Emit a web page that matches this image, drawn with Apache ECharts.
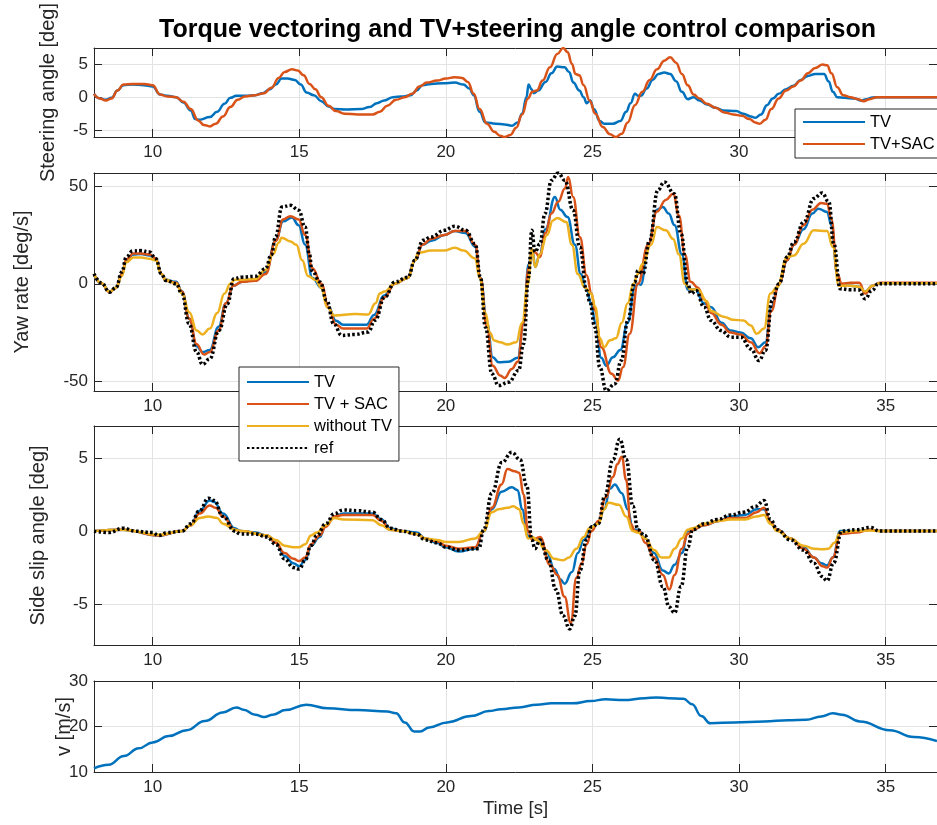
<!DOCTYPE html>
<html>
<head>
<meta charset="utf-8">
<title>Torque vectoring and TV+steering angle control comparison</title>
<script src="https://cdn.jsdelivr.net/npm/echarts@6/dist/echarts.min.js"></script>
<style>
  html, body { margin: 0; padding: 0; background: #fff; }
  #chart { width: 937px; height: 825px; }
</style>
</head>
<body>
<div id="chart"></div>
<script>
  // [time s, value] pairs

  // steering angle [deg]
  const steerTV = [[8.0,0.5],[8.2,-0.2],[8.4,-0.4],[8.6,-0.1],[8.8,1.0],[9.0,1.8],[9.3,1.9],[9.7,1.8],[10.0,1.6],[10.25,0.4],[10.5,0.2],[10.8,0.0],[11.05,-0.8],[11.3,-2.0],[11.45,-3.3],[11.6,-3.4],[11.95,-3.0],[12.2,-2.2],[12.45,-1.0],[12.65,-0.1],[12.85,0.2],[13.2,0.2],[13.5,0.3],[13.75,0.6],[14.0,1.2],[14.2,1.9],[14.4,2.8],[14.6,2.8],[14.85,2.6],[15.05,1.9],[15.25,0.7],[15.5,0.3],[15.75,-0.6],[16.0,-1.4],[16.2,-1.8],[16.6,-1.85],[17.1,-1.8],[17.4,-1.5],[17.65,-0.9],[17.9,-0.5],[18.2,0.0],[18.5,0.1],[18.8,0.3],[19.0,1.0],[19.2,1.8],[19.5,2.0],[19.9,2.1],[20.3,2.2],[20.6,1.9],[20.8,1.3],[20.95,0.3],[21.15,-2.2],[21.35,-3.8],[21.7,-4.0],[22.0,-4.1],[22.25,-4.3],[22.45,-3.8],[22.6,-2.5],[22.75,0.0],[22.82,1.9],[22.92,1.2],[23.0,0.6],[23.15,1.0],[23.4,2.3],[23.6,3.6],[23.8,4.6],[24.05,4.5],[24.2,3.8],[24.35,2.2],[24.55,1.0],[24.7,0.0],[24.8,-0.9],[24.92,-0.5],[25.05,-1.8],[25.25,-3.6],[25.4,-4.0],[25.7,-4.0],[25.95,-3.6],[26.15,-2.2],[26.3,-0.9],[26.45,0.5],[26.55,0.2],[26.65,0.2],[26.85,1.3],[27.05,2.6],[27.25,3.5],[27.45,3.7],[27.65,3.5],[27.85,2.4],[28.05,0.8],[28.25,-0.3],[28.45,0.0],[28.65,-0.5],[28.9,-1.1],[29.2,-1.6],[29.45,-2.0],[29.9,-2.1],[30.15,-2.5],[30.4,-2.9],[30.55,-3.1],[30.75,-2.6],[30.95,-1.2],[31.15,-0.2],[31.35,0.5],[31.6,1.2],[31.85,1.7],[32.1,2.6],[32.35,3.2],[32.6,3.5],[32.9,3.5],[33.05,2.4],[33.2,0.8],[33.35,0.0],[33.6,-0.1],[33.95,-0.2],[34.15,-0.5],[34.35,-0.3],[34.55,-0.05],[34.8,0.0],[36.75,0.0]];
  const steerSAC = [[8.0,0.5],[8.2,-0.2],[8.4,-0.5],[8.6,-0.2],[8.8,1.0],[9.0,1.9],[9.3,2.0],[9.7,2.0],[10.0,1.8],[10.25,0.4],[10.5,0.1],[10.8,0.0],[11.05,-0.7],[11.3,-1.8],[11.55,-3.5],[11.75,-4.2],[11.95,-4.4],[12.15,-4.0],[12.4,-2.9],[12.65,-1.5],[12.9,-0.4],[13.15,0.1],[13.5,0.3],[13.8,0.6],[14.05,1.4],[14.3,2.9],[14.5,3.8],[14.75,4.2],[14.95,4.0],[15.15,3.3],[15.35,2.0],[15.55,1.2],[15.75,0.0],[16.0,-1.3],[16.25,-2.1],[16.55,-2.5],[17.0,-2.6],[17.5,-2.6],[17.75,-2.2],[18.0,-1.3],[18.3,-0.4],[18.6,0.0],[18.85,0.5],[19.1,1.6],[19.35,2.2],[19.7,2.5],[20.0,2.8],[20.3,3.0],[20.55,2.9],[20.75,2.3],[20.95,0.5],[21.15,-1.8],[21.4,-4.0],[21.65,-5.2],[21.85,-5.8],[22.0,-6.0],[22.2,-5.7],[22.4,-4.6],[22.6,-2.6],[22.8,-0.2],[22.95,0.8],[23.1,1.0],[23.3,2.5],[23.55,4.5],[23.8,6.5],[24.0,7.4],[24.15,6.8],[24.3,5.0],[24.42,3.5],[24.55,3.3],[24.7,1.8],[24.9,-0.5],[25.1,-2.5],[25.35,-4.5],[25.6,-5.6],[25.8,-6.0],[26.0,-5.5],[26.2,-3.8],[26.45,-1.2],[26.7,0.8],[26.95,2.6],[27.2,4.2],[27.45,5.5],[27.65,6.0],[27.85,5.2],[28.05,3.5],[28.25,1.8],[28.45,0.4],[28.65,-0.2],[28.9,-1.0],[29.2,-1.6],[29.5,-2.3],[29.8,-2.6],[30.1,-2.8],[30.35,-3.3],[30.55,-3.8],[30.7,-4.0],[30.9,-3.4],[31.1,-1.8],[31.35,-0.2],[31.6,1.0],[31.85,1.6],[32.1,2.5],[32.35,3.6],[32.6,4.4],[32.85,4.9],[33.0,4.8],[33.15,3.6],[33.35,1.5],[33.55,0.3],[33.8,0.0],[34.05,-0.3],[34.25,-0.6],[34.45,-0.3],[34.7,0.0],[36.75,0.0]];

  // yaw rate [deg/s]
  const yawTV = [[8.0,4.5],[8.25,0.2],[8.53,-4],[8.75,-2],[8.95,5],[9.1,12],[9.35,15],[9.6,15.2],[9.9,14.5],[10.1,13],[10.3,5],[10.45,2],[10.8,1],[11.0,-4],[11.25,-18],[11.5,-32],[11.7,-35],[11.95,-34],[12.25,-22],[12.5,-10],[12.75,-1],[13.05,1],[13.5,2],[13.85,6],[14.2,22],[14.45,32],[14.75,34],[14.98,30],[15.2,20],[15.45,3],[15.75,-2],[16.0,-12],[16.25,-19],[16.5,-21],[17.3,-21],[17.55,-16],[17.9,-6],[18.26,0],[18.7,3],[18.95,12],[19.2,20],[19.5,22],[19.95,25],[20.3,27],[20.67,26],[21.0,19],[21.18,3],[21.4,-20],[21.6,-37.7],[21.8,-40.2],[22.14,-40],[22.45,-38],[22.65,-20],[22.82,10],[22.95,17],[23.05,8.6],[23.2,15],[23.4,28],[23.72,44.5],[23.9,38],[24.15,34.2],[24.4,20],[24.6,5],[24.8,-3],[24.95,-10],[25.1,-20],[25.3,-38],[25.47,-42],[25.7,-37.7],[25.95,-34],[26.2,-20],[26.44,-2],[26.55,0],[26.65,-0.5],[26.9,20],[27.2,38],[27.4,39.4],[27.6,36],[27.8,30],[28.05,15],[28.25,-3],[28.5,-3],[28.8,-10],[29.05,-12],[29.4,-20],[29.7,-24],[30.05,-25],[30.4,-28],[30.65,-32.5],[30.9,-30],[31.1,-12],[31.36,0],[31.64,12],[31.87,20],[32.2,28],[32.5,36],[32.7,38.5],[33.0,36.8],[33.15,30],[33.35,5],[33.5,-1],[33.8,-1],[34.1,-1.5],[34.3,-4],[34.55,-1],[34.8,0.3],[36.75,0.3]];
  const yawSAC = [[8.0,5],[8.25,0.3],[8.53,-4.3],[8.75,-2],[8.95,5],[9.1,12.5],[9.35,15.5],[9.6,15.5],[9.9,15],[10.1,13],[10.3,5],[10.45,1.5],[10.8,0.5],[11.0,-4],[11.25,-18],[11.5,-31],[11.75,-36.3],[11.95,-35],[12.25,-24],[12.5,-10],[12.75,-1],[13.05,1],[13.5,1.5],[13.85,5],[14.2,22],[14.45,33],[14.7,34.6],[14.98,33],[15.2,25],[15.45,8],[15.75,0],[16.0,-12],[16.25,-21],[16.5,-23],[17.3,-23],[17.55,-18],[17.9,-7],[18.26,0],[18.7,3],[18.95,12],[19.2,20],[19.5,23],[19.95,25],[20.3,27],[20.67,27],[21.0,20],[21.18,3],[21.4,-22],[21.6,-42],[21.85,-47],[22.0,-48.3],[22.25,-43.7],[22.45,-40],[22.65,-20],[22.82,8],[22.95,17],[23.05,16],[23.2,13.7],[23.4,26],[23.6,36],[23.83,42],[24.06,48.8],[24.17,54.8],[24.34,44.5],[24.57,24],[24.8,4.3],[24.97,-5],[25.08,-13.7],[25.3,-32.5],[25.65,-46.2],[25.87,-49.7],[26.04,-42.8],[26.27,-25.7],[26.55,0],[26.9,20],[27.2,37],[27.5,43],[27.75,46.2],[27.95,35],[28.15,15],[28.35,1],[28.6,-2],[28.8,-8],[29.05,-15],[29.4,-21],[29.7,-25],[30.05,-26],[30.4,-30],[30.7,-35.6],[30.9,-32],[31.1,-14],[31.36,0],[31.64,12],[31.87,20],[32.2,30],[32.5,38],[32.8,41.4],[33.0,41],[33.15,33],[33.35,5],[33.5,0],[33.8,0.5],[34.1,0.5],[34.3,-5],[34.55,-1],[34.8,0.5],[36.75,0.5]];
  const yawNoTV = [[8.0,5],[8.25,0.3],[8.53,-4],[8.75,-2],[8.95,4],[9.1,11],[9.35,13.5],[9.6,13.5],[9.9,12.8],[10.1,12],[10.3,5],[10.45,2],[10.8,0],[11.0,-5],[11.25,-14.6],[11.5,-24],[11.7,-26],[11.95,-23],[12.2,-15],[12.45,-5],[12.65,0],[12.8,2],[13.05,2],[13.5,2.5],[13.85,7],[14.1,15],[14.3,21],[14.4,23.6],[14.7,21.7],[14.9,20],[15.1,12],[15.3,4],[15.55,2],[15.75,-2],[15.95,-12],[16.2,-16.3],[16.9,-15.5],[17.35,-15.8],[17.6,-10],[17.75,-5],[17.9,-4],[18.26,0],[18.7,3],[18.95,12],[19.05,15.9],[19.5,17],[19.95,17],[20.3,18.5],[20.6,17],[21.0,13],[21.15,3],[21.35,-15],[21.5,-25],[21.65,-29.1],[21.85,-30],[22.1,-31.2],[22.4,-30],[22.6,-20],[22.8,0],[22.93,18],[23.05,8.6],[23.2,15],[23.45,25],[23.65,32.5],[23.8,33.7],[24.1,31.7],[24.3,20],[24.5,5],[24.75,-2],[24.95,-5],[25.1,-12],[25.25,-28],[25.4,-32.5],[25.6,-29],[25.8,-28],[26.0,-20],[26.2,-10],[26.4,0],[26.55,5],[26.7,10],[27.0,20],[27.2,29.1],[27.5,27.4],[27.75,23],[27.95,15],[28.15,0],[28.35,-3],[28.6,-3],[28.9,-9],[29.04,-14],[29.5,-17],[29.8,-18.5],[30.15,-18.8],[30.4,-21.4],[30.6,-25.7],[30.85,-23],[31.07,-5],[31.3,-1.7],[31.64,13.7],[31.87,14.5],[32.2,20.5],[32.55,27.4],[33.0,27],[33.2,18.8],[33.4,-1],[33.8,-1],[34.1,-1.5],[34.3,-4],[34.55,-1],[34.8,0.3],[36.75,0.3]];
  const yawRef = [[8.0,5.1],[8.25,0.5],[8.53,-4.3],[8.75,-2],[8.95,6],[9.1,13.7],[9.32,16.8],[9.6,17],[9.89,16.3],[10.11,12.8],[10.3,5],[10.45,1.7],[10.8,0],[11.0,-5.1],[11.24,-20.5],[11.5,-35],[11.7,-41.4],[11.95,-38.5],[12.26,-24],[12.55,-10.3],[12.77,2.6],[13.05,3.4],[13.5,3.8],[13.85,7.7],[14.05,15],[14.19,24],[14.41,39.4],[14.7,40.2],[14.98,37.7],[15.2,29.1],[15.35,15],[15.43,6.8],[15.71,0.9],[15.94,-8.6],[16.17,-20.5],[16.45,-26.5],[16.9,-26],[17.35,-24.8],[17.58,-18.8],[17.92,-6.8],[18.26,0.9],[18.71,3.4],[18.94,12],[19.22,22.3],[19.5,24],[19.95,27.4],[20.3,29.5],[20.67,27.4],[21.0,20.5],[21.18,3.4],[21.35,-22.3],[21.57,-46.2],[21.8,-52.2],[22.14,-50.5],[22.48,-44.5],[22.65,-30.8],[22.82,3.4],[22.93,27.4],[23.04,16.3],[23.21,20.5],[23.38,36],[23.6,53],[23.83,56.8],[24.06,53],[24.34,37.7],[24.57,18.8],[24.8,-3.4],[24.91,-9.4],[25.08,-22.3],[25.25,-42.8],[25.47,-54.8],[25.76,-51.4],[25.98,-39.4],[26.21,-18.8],[26.44,0.9],[26.55,6.8],[26.72,5.1],[26.95,22.3],[27.23,48],[27.45,52.2],[27.79,46.2],[28.02,25.7],[28.25,0],[28.36,-5.1],[28.53,-3.4],[28.81,-12],[29.04,-18.8],[29.38,-24],[29.72,-27.4],[30.06,-27.4],[30.4,-33.4],[30.68,-39.4],[30.9,-34.2],[31.13,-8.6],[31.36,0],[31.64,13.7],[31.87,21.4],[32.21,31.7],[32.55,43.7],[32.83,46.6],[33.06,42],[33.23,20.5],[33.45,-2.6],[33.79,-3.1],[34.07,-3.1],[34.3,-7.7],[34.53,-3.4],[34.75,0],[36.75,0]];

  // side slip angle [deg]
  const slipTV = [[8.0,0],[9.0,0.1],[10.2,-0.3],[11.0,0],[11.3,0.4],[11.6,1.4],[11.95,2.1],[12.1,2.0],[12.4,1.2],[12.8,0.2],[13.0,0],[13.5,-0.1],[13.9,-0.3],[14.2,-0.8],[14.5,-1.7],[14.8,-2.2],[15.0,-2.4],[15.2,-2.0],[15.4,-1.0],[15.7,-0.4],[15.9,0.4],[16.2,1.0],[16.5,1.2],[17.5,1.2],[17.8,0.8],[18.1,0.2],[18.5,0],[19.0,-0.1],[19.3,-0.5],[19.7,-0.8],[20.0,-1.1],[20.44,-1.4],[21.0,-1.2],[21.29,0],[21.57,1.5],[21.9,2.7],[22.25,3.0],[22.45,2.8],[22.6,1.5],[22.8,-0.3],[22.99,-0.6],[23.21,-0.5],[23.45,-1.5],[23.7,-2.6],[23.9,-3.3],[24.05,-3.6],[24.3,-2.8],[24.5,-1.5],[24.7,-0.6],[24.97,0.3],[25.2,0.6],[25.4,1.5],[25.6,2.9],[25.76,3.2],[26.0,2.6],[26.2,1.5],[26.38,0.1],[26.55,0.1],[26.8,-0.5],[27.1,-1.5],[27.4,-2.7],[27.6,-2.9],[27.8,-2.3],[28.05,-1.5],[28.25,0],[28.42,0.1],[28.8,0.4],[29.3,0.7],[29.7,1.0],[30.2,1.1],[30.6,1.5],[30.85,1.5],[31.07,0.6],[31.3,0.1],[31.75,-0.5],[32.2,-1.1],[32.55,-1.8],[32.8,-2.2],[33.0,-2.35],[33.2,-1.8],[33.45,0],[34.0,0],[34.47,0.1],[34.8,0],[36.75,0]];
  const slipSAC = [[8.0,0],[9.0,0.1],[10.2,-0.3],[11.0,0],[11.3,0.4],[11.6,1.2],[11.95,1.75],[12.15,1.6],[12.4,1.0],[12.8,0.1],[13.0,0],[13.9,-0.3],[14.2,-0.8],[14.5,-1.5],[14.8,-1.9],[15.0,-2.05],[15.2,-1.8],[15.4,-0.9],[15.7,-0.3],[15.9,0.3],[16.2,1.0],[16.5,1.1],[17.5,1.1],[17.8,0.7],[18.1,0.1],[18.5,0],[19.0,-0.2],[19.3,-0.5],[19.7,-0.7],[20.0,-1.0],[20.44,-1.2],[21.0,-1.1],[21.29,0],[21.57,1.6],[21.9,3.2],[22.1,4.25],[22.35,4.1],[22.5,4.0],[22.65,2.5],[22.8,0],[22.95,-0.6],[23.21,-0.4],[23.55,-2.3],[23.8,-3.0],[24.05,-4.5],[24.26,-6.3],[24.45,-3.2],[24.63,-2.2],[24.8,-0.9],[24.97,0],[25.2,0.7],[25.45,2.3],[25.7,3.7],[25.85,4.6],[26.0,5.1],[26.15,3.5],[26.3,0.5],[26.45,0],[26.6,0],[26.8,-0.8],[27.1,-1.8],[27.4,-3.0],[27.62,-4.0],[27.8,-3.0],[28.05,-1.2],[28.25,-0.2],[28.42,0.1],[28.8,0.4],[29.3,0.7],[29.7,0.9],[30.2,0.9],[30.6,1.3],[30.85,1.6],[31.07,0.6],[31.3,0.1],[31.75,-0.5],[32.2,-1.2],[32.55,-1.8],[32.85,-2.4],[33.0,-2.5],[33.2,-1.8],[33.45,-0.2],[34.0,-0.1],[34.47,0.1],[34.8,0],[36.75,0]];
  const slipNoTV = [[8.0,0],[9.0,0.1],[10.2,-0.25],[11.0,0],[11.3,0.4],[11.6,0.9],[11.9,1.0],[12.2,0.9],[12.4,0.5],[12.8,0.1],[13.0,0],[13.9,-0.3],[14.2,-0.6],[14.5,-1.0],[14.8,-1.1],[15.0,-1.1],[15.2,-0.9],[15.4,-0.3],[15.6,-0.1],[15.9,0.4],[16.2,0.9],[16.5,0.8],[17.5,0.75],[17.8,0.4],[18.1,0.1],[18.5,0],[19.0,-0.2],[19.3,-0.5],[19.7,-0.6],[20.0,-0.75],[20.44,-0.74],[21.0,-0.5],[21.29,0],[21.57,1.3],[21.8,1.5],[22.1,1.6],[22.3,1.7],[22.5,1.5],[22.65,0.5],[22.8,-0.5],[22.95,-0.4],[23.1,-0.6],[23.4,-1.3],[23.7,-1.9],[24.0,-2.0],[24.2,-1.8],[24.45,-1.2],[24.7,-0.4],[24.9,0.2],[25.2,0.5],[25.4,1.5],[25.55,1.95],[25.9,1.8],[26.15,1.0],[26.38,0],[26.55,-0.1],[26.8,-0.5],[27.1,-1.3],[27.35,-1.8],[27.6,-1.8],[27.8,-1.2],[28.05,-0.5],[28.25,0.1],[28.42,0.2],[28.8,0.5],[29.3,0.7],[29.7,0.8],[30.2,0.8],[30.6,1.0],[30.85,1.1],[31.07,0.5],[31.3,0],[31.75,-0.5],[32.2,-1.0],[32.55,-1.2],[32.85,-1.25],[33.05,-1.2],[33.25,-0.8],[33.45,-0.1],[34.0,0],[34.47,0.05],[34.8,0],[36.75,0]];
  const slipRef = [[8.0,0],[8.5,-0.1],[9.0,0.2],[9.4,0],[10.0,-0.1],[10.2,-0.3],[10.5,-0.1],[11.0,0],[11.3,0.5],[11.6,1.4],[11.9,2.25],[12.1,2.1],[12.4,1.0],[12.8,0],[13.0,-0.2],[13.5,-0.2],[13.9,-0.4],[14.2,-0.9],[14.5,-1.9],[14.8,-2.5],[15.0,-2.6],[15.2,-2.0],[15.4,-1.0],[15.6,-0.3],[15.9,0.5],[16.2,1.2],[16.5,1.45],[17.0,1.4],[17.5,1.3],[17.8,0.8],[18.1,0.2],[18.5,0],[19.0,-0.2],[19.3,-0.6],[19.7,-0.8],[20.0,-1.1],[20.44,-1.3],[21.12,-1.2],[21.29,0.1],[21.57,2.6],[21.91,4.7],[22.25,5.4],[22.53,4.9],[22.76,3.1],[22.93,-0.6],[23.04,-1.2],[23.21,-0.6],[23.5,-2.0],[23.75,-4.0],[24.0,-5.8],[24.22,-6.7],[24.4,-5.8],[24.57,-2.7],[24.8,-0.6],[24.97,0.3],[25.2,0.5],[25.42,2.4],[25.7,4.9],[25.93,6.3],[26.15,4.9],[26.38,1.7],[26.55,0.1],[26.78,-0.3],[27.12,-2.0],[27.4,-3.8],[27.62,-5.2],[27.8,-5.6],[28.02,-3.8],[28.25,-1.1],[28.42,0.1],[28.81,0.5],[29.26,0.8],[29.72,1.1],[30.17,1.3],[30.57,1.7],[30.85,2.1],[31.07,0.8],[31.3,0.1],[31.75,-0.6],[32.2,-1.3],[32.55,-2.2],[32.83,-3.1],[33.0,-3.4],[33.22,-2.2],[33.5,0],[34.0,0.1],[34.47,0.25],[34.8,0],[36.75,0]];

  // speed [m/s]
  const speed = [[8.0,10.8],[8.5,11.6],[9.02,13.5],[9.53,15.2],[10.0,16.5],[10.55,17.9],[11.16,19.2],[11.78,21.2],[12.39,23.1],[12.86,24.2],[13.1,23.7],[13.5,22.6],[13.8,22.1],[14.1,22.6],[14.53,23.6],[15.24,24.8],[15.96,24.0],[16.98,23.6],[18.0,23.3],[18.3,22.9],[18.6,20.9],[18.92,18.9],[19.12,18.9],[19.43,19.8],[20.04,20.9],[20.86,22.3],[21.47,23.4],[21.88,23.8],[22.49,24.2],[23.1,24.8],[23.61,25.1],[24.33,25.1],[24.94,25.6],[25.45,26.0],[26.06,25.8],[26.78,26.2],[27.18,26.4],[27.59,26.2],[28.1,26.1],[28.4,24.9],[28.71,22.3],[29.02,20.7],[29.84,20.9],[30.86,21.1],[31.67,21.4],[32.29,21.5],[32.8,22.2],[33.2,22.9],[33.51,22.6],[34.12,21.1],[35.14,19.2],[35.96,17.7],[36.75,16.8]];

  const timeRange = [8, 36.75];
  const yRanges = [[-6, 7.4], [-55, 56.8], [-7.8, 7.2], [10, 30]];
  const yLabels = ['Steering angle [deg]', 'Yaw rate [deg/s]', 'Side slip angle [deg]', 'v [m/s]'];

  const FONT = "'Liberation Sans', Arial, Helvetica, sans-serif";
  const AX = '#262626';
  const GRIDC = '#e3e3e3';
  const BLUE = '#0072BD', ORANGE = '#D95319', YELLOW = '#EDB120';

  // panel layout (px)
  const panels = [
    {top: 46, height: 91, nameGap: 36},
    {top: 173, height: 218, nameGap: 62},
    {top: 426, height: 219, nameGap: 46},
    {top: 681, height: 91, nameGap: 20}
  ];

  const myChart = echarts.init(document.getElementById('chart'), null, {renderer: 'canvas'});

  const tick = {show: true, inside: true, length: 8, lineStyle: {color: AX, width: 1}};
  const axLine = {show: true, onZero: false, lineStyle: {color: AX, width: 1}};

  const grid = [], xAxis = [], yAxis = [];
  panels.forEach((p, i) => {
    grid.push({left: 94, width: 846, top: p.top, height: p.height});
    // bottom + mirrored top axis
    xAxis.push({
      type: 'value', gridIndex: i, min: timeRange[0], max: timeRange[1],
      axisLine: axLine, axisTick: tick,
      axisLabel: {color: AX, fontSize: 17, fontFamily: FONT, margin: 7, showMinLabel: false, showMaxLabel: false},
      splitLine: {show: true, lineStyle: {color: GRIDC, width: 1}},
      name: i === 3 ? 'Time [s]' : '', nameLocation: 'middle', nameGap: 27,
      nameTextStyle: {color: AX, fontSize: 18.5, fontFamily: FONT}
    });
    xAxis.push({
      type: 'value', gridIndex: i, position: 'top', min: timeRange[0], max: timeRange[1],
      axisLine: axLine, axisTick: tick, axisLabel: {show: false}, splitLine: {show: false}
    });
    const yr = yRanges[i];
    yAxis.push({
      type: 'value', gridIndex: i, min: yr[0], max: yr[1],
      interval: i === 3 ? 10 : undefined,
      splitNumber: i === 1 ? 2 : 3,
      axisLine: axLine, axisTick: tick,
      axisLabel: {color: AX, fontSize: 17, fontFamily: FONT, margin: 6, showMinLabel: i === 3, showMaxLabel: i === 3},
      splitLine: {show: true, lineStyle: {color: GRIDC, width: 1}},
      name: yLabels[i], nameLocation: 'middle', nameGap: p.nameGap,
      nameMoveOverlap: false,
      nameTextStyle: {color: AX, fontSize: 20, fontFamily: FONT}
    });
    yAxis.push({
      type: 'value', gridIndex: i, position: 'right', min: yr[0], max: yr[1],
      interval: i === 3 ? 10 : undefined,
      splitNumber: i === 1 ? 2 : 3,
      axisLine: axLine, axisTick: tick, axisLabel: {show: false}, splitLine: {show: false}
    });
  });

  function line(name, data, color, panel, dotted) {
    return {
      name: name, type: 'line', data: data,
      xAxisIndex: panel * 2, yAxisIndex: panel * 2,
      symbol: 'none', showSymbol: false,
      smooth: 0.45, smoothMonotone: 'x',
      lineStyle: dotted
        ? {color: '#000', width: 3.5, type: [2.5, 2.3]}
        : {color: color, width: 2.5},
      itemStyle: {color: dotted ? '#000' : color}
    };
  }

  const legendBase = {
    orient: 'vertical', itemWidth: 62, itemHeight: 12, itemGap: 0,
    backgroundColor: '#fff', borderColor: AX, borderWidth: 1, borderRadius: 0,
    selectedMode: false,
    itemStyle: {opacity: 0},
    textStyle: {color: '#000', fontSize: 16.5, fontFamily: FONT, lineHeight: 22}
  };

  const option = {
    animation: false,
    backgroundColor: '#fff',
    title: {
      text: 'Torque vectoring and TV+steering angle control comparison',
      left: 154, top: 13,
      textStyle: {color: '#000', fontSize: 25, fontWeight: 'bold', fontFamily: FONT}
    },
    legend: [
      Object.assign({}, legendBase, {
        data: ['TV', 'TV+SAC'], left: 795, top: 109, padding: [2, 80, 3, 7]
      }),
      Object.assign({}, legendBase, {
        data: ['TV', 'TV + SAC', 'without TV', 'ref'], left: 239, top: 367, padding: [4, 7, 2, 7]
      })
    ],
    grid: grid,
    xAxis: xAxis,
    yAxis: yAxis,
    series: [
      line('TV', steerTV, BLUE, 0),
      line('TV+SAC', steerSAC, ORANGE, 0),

      line('TV', yawTV, BLUE, 1),
      line('TV + SAC', yawSAC, ORANGE, 1),
      line('without TV', yawNoTV, YELLOW, 1),
      line('ref', yawRef, '#000', 1, true),

      line('TV', slipTV, BLUE, 2),
      line('TV + SAC', slipSAC, ORANGE, 2),
      line('without TV', slipNoTV, YELLOW, 2),
      line('ref', slipRef, '#000', 2, true),

      line('v', speed, BLUE, 3)
    ]
  };

  myChart.setOption(option);
</script>
</body>
</html>
